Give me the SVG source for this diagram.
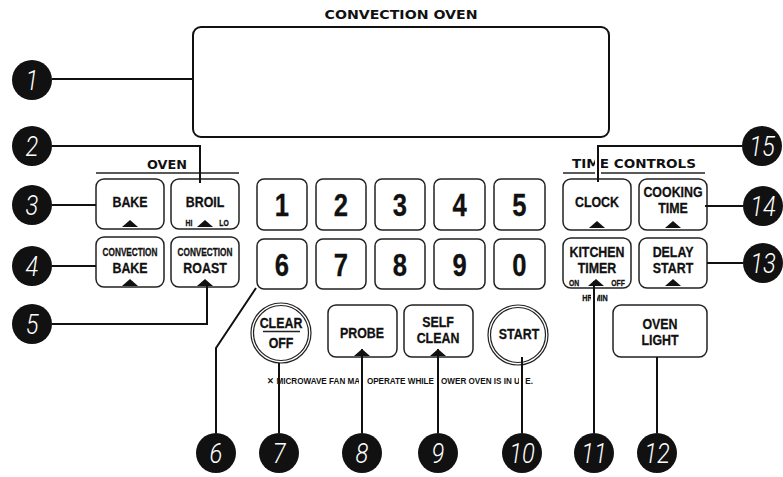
<svg xmlns="http://www.w3.org/2000/svg" width="783" height="477" viewBox="0 0 783 477">
<style>
.bg{fill:#fff}
.btn{fill:#fff;stroke:#222;stroke-width:1.5}
.ring{fill:none;stroke:#222;stroke-width:1.2}
.t{font-family:"Liberation Sans",Arial,sans-serif;font-weight:bold;text-anchor:middle;fill:#111;stroke:#111;stroke-width:0.3;transform-box:fill-box;transform-origin:center;transform:scaleX(0.8)}
.m{font-size:15.5px}
.s{font-size:10.3px}
.xs{font-size:8.5px}
.d{font-size:32px}
.h{font-family:"DejaVu Sans",sans-serif;font-weight:bold;fill:#111;text-anchor:middle}
.note{font-family:"Liberation Sans",Arial,sans-serif;font-weight:bold;fill:#111;font-size:9px}
.ul{stroke:#222;stroke-width:1.5}
.ln{fill:none;stroke:#111;stroke-width:2}
.halo{fill:none;stroke:#fff;stroke-width:6}
.co{fill:#111}
.cn{font-family:Roboto,"Liberation Sans",sans-serif;font-style:italic;font-weight:300;font-size:28px;fill:#fff;text-anchor:middle;transform-box:fill-box;transform-origin:center;transform:scaleX(0.85)}
.tri{fill:#111}
</style>
<defs>
<path id="tri" class="tri" d="M-8,0 L8,0 L0,-7 Z"/>
</defs>
<rect class="bg" x="0" y="0" width="783" height="477"/>

<text class="h" x="401" y="19" font-size="13" textLength="153" lengthAdjust="spacingAndGlyphs">CONVECTION OVEN</text>
<g id="display"><rect x="193" y="27" width="416" height="110" rx="8" fill="#fff" stroke="#111" stroke-width="2"/></g>

<g id="oven-label">
<text class="h" x="167" y="169" font-size="11.5" textLength="40" lengthAdjust="spacingAndGlyphs">OVEN</text>
<line class="ul" x1="96" y1="173" x2="239" y2="173"/>
</g>
<g id="time-label">
<text class="h" x="634" y="168" font-size="11.5" textLength="124" lengthAdjust="spacingAndGlyphs">TIME CONTROLS</text>
<line class="ul" x1="563" y1="173" x2="705" y2="173"/>
</g>

<g id="bake"><rect class="btn" x="96" y="179" width="68" height="50" rx="8"/><text class="t m" x="130" y="207">BAKE</text><use href="#tri" x="130" y="227"/></g>
<g id="broil"><rect class="btn" x="171" y="179" width="68" height="50" rx="8"/><text class="t m" x="205" y="207">BROIL</text><use href="#tri" x="205" y="227"/><text class="t xs" x="189" y="226">HI</text><text class="t xs" x="224" y="226">LO</text></g>
<g id="conv-bake"><rect class="btn" x="96" y="237" width="68" height="50" rx="8"/><text class="t s" x="130" y="256">CONVECTION</text><text class="t m" x="130" y="273">BAKE</text><use href="#tri" x="130" y="286"/></g>
<g id="conv-roast"><rect class="btn" x="171" y="237" width="68" height="50" rx="8"/><text class="t s" x="205" y="256">CONVECTION</text><text class="t m" x="205" y="273">ROAST</text><use href="#tri" x="205" y="286"/></g>

<g id="key1"><rect class="btn" x="257" y="179" width="50" height="51" rx="7"/><text class="t d" x="282" y="216">1</text></g>
<g id="key2"><rect class="btn" x="316" y="179" width="50" height="51" rx="7"/><text class="t d" x="341" y="216">2</text></g>
<g id="key3"><rect class="btn" x="375" y="179" width="50" height="51" rx="7"/><text class="t d" x="400" y="216">3</text></g>
<g id="key4"><rect class="btn" x="434" y="179" width="51" height="51" rx="7"/><text class="t d" x="459.5" y="216">4</text></g>
<g id="key5"><rect class="btn" x="494" y="179" width="51" height="51" rx="7"/><text class="t d" x="519.5" y="216">5</text></g>
<g id="key6"><rect class="btn" x="257" y="239" width="50" height="50" rx="7"/><text class="t d" x="282" y="276">6</text></g>
<g id="key7"><rect class="btn" x="316" y="239" width="50" height="50" rx="7"/><text class="t d" x="341" y="276">7</text></g>
<g id="key8"><rect class="btn" x="375" y="239" width="50" height="50" rx="7"/><text class="t d" x="400" y="276">8</text></g>
<g id="key9"><rect class="btn" x="434" y="239" width="51" height="50" rx="7"/><text class="t d" x="459.5" y="276">9</text></g>
<g id="key0"><rect class="btn" x="494" y="239" width="51" height="50" rx="7"/><text class="t d" x="519.5" y="276">0</text></g>

<g id="clear-off"><circle class="ring" cx="281" cy="333" r="30"/><circle class="ring" cx="281" cy="333" r="27.5"/><text class="t m" x="281" y="328">CLEAR</text><line class="ul" x1="263" y1="331.5" x2="300" y2="331.5"/><text class="t m" x="281" y="348">OFF</text></g>
<g id="probe"><rect class="btn" x="328" y="305" width="69" height="52" rx="8"/><text class="t m" x="362" y="338">PROBE</text><use href="#tri" x="362" y="356"/></g>
<g id="self-clean"><rect class="btn" x="404" y="305" width="69" height="52" rx="8"/><text class="t m" x="438" y="327">SELF</text><text class="t m" x="438" y="343">CLEAN</text><use href="#tri" x="438" y="356"/></g>
<g id="start"><circle class="ring" cx="518" cy="335" r="30"/><circle class="ring" cx="518" cy="335" r="27.5"/><text class="t m" x="519" y="339">START</text></g>

<g id="clock"><rect class="btn" x="563" y="179" width="68" height="51" rx="8"/><text class="t m" x="597" y="207">CLOCK</text><use href="#tri" x="597" y="228"/></g>
<g id="cooking-time"><rect class="btn" x="639" y="179" width="68" height="51" rx="8"/><text class="t m" x="673" y="197">COOKING</text><text class="t m" x="673" y="213">TIME</text><use href="#tri" x="673" y="228"/></g>
<g id="kitchen-timer"><rect class="btn" x="563" y="238" width="68" height="50" rx="8"/><text class="t m" x="597" y="257">KITCHEN</text><text class="t m" x="597" y="273">TIMER</text><text class="t xs" x="574" y="286">ON</text><text class="t xs" x="618" y="286">OFF</text><use href="#tri" x="596" y="286"/><text class="t" x="595" y="301" font-size="9">HR/MIN</text></g>
<g id="delay-start"><rect class="btn" x="639" y="238" width="68" height="50" rx="8"/><text class="t m" x="673" y="257">DELAY</text><text class="t m" x="673" y="273">START</text><use href="#tri" x="673" y="286"/></g>
<g id="oven-light"><rect class="btn" x="613" y="305" width="94" height="52" rx="8"/><text class="t m" x="660" y="329">OVEN</text><text class="t m" x="660" y="345">LIGHT</text></g>

<text class="note" x="267" y="384" textLength="266" lengthAdjust="spacingAndGlyphs">✕ MICROWAVE FAN MAY OPERATE WHILE LOWER OVEN IS IN USE.</text>

<g id="connectors">
<path class="halo" d="M598,150 V176"/>
<path class="halo" d="M594,292 V304"/>
<path class="halo" d="M362,374 V388 M438,374 V388 M522,374 V388"/>
<path class="ln" d="M52,79 H193"/>
<path class="ln" d="M52,146 H200 V183"/>
<path class="ln" d="M52,205 H96"/>
<path class="ln" d="M52,266 H96"/>
<path class="ln" d="M52,324 H207 V283"/>
<path class="ln" d="M256,288 L216,348 V433"/>
<path class="ln" d="M279,363 V433"/>
<path class="ln" d="M362,349 V433"/>
<path class="ln" d="M438,349 V433"/>
<path class="ln" d="M522,357 V433"/>
<path class="ln" d="M594,281 V433"/>
<path class="ln" d="M657,357 V433"/>
<path class="ln" d="M743,263 H707"/>
<path class="ln" d="M743,206 H705"/>
<path class="ln" d="M742,146 H598 V182"/>
</g>

<g id="callout1"><circle class="co" cx="32" cy="80" r="20"/><text class="cn" x="32" y="90">1</text></g>
<g id="callout2"><circle class="co" cx="32" cy="146" r="20"/><text class="cn" x="32" y="156">2</text></g>
<g id="callout3"><circle class="co" cx="32" cy="205" r="20"/><text class="cn" x="32" y="215">3</text></g>
<g id="callout4"><circle class="co" cx="32" cy="266" r="20"/><text class="cn" x="32" y="276">4</text></g>
<g id="callout5"><circle class="co" cx="32" cy="324" r="20"/><text class="cn" x="32" y="334">5</text></g>
<g id="callout6"><circle class="co" cx="216" cy="453" r="20"/><text class="cn" x="216" y="463">6</text></g>
<g id="callout7"><circle class="co" cx="279" cy="453" r="20"/><text class="cn" x="279" y="463">7</text></g>
<g id="callout8"><circle class="co" cx="362" cy="453" r="20"/><text class="cn" x="362" y="463">8</text></g>
<g id="callout9"><circle class="co" cx="438" cy="453" r="20"/><text class="cn" x="438" y="463">9</text></g>
<g id="callout10"><circle class="co" cx="522" cy="453" r="20"/><text class="cn" x="522" y="463">10</text></g>
<g id="callout11"><circle class="co" cx="594" cy="453" r="20"/><text class="cn" x="594" y="463">11</text></g>
<g id="callout12"><circle class="co" cx="657" cy="453" r="20"/><text class="cn" x="657" y="463">12</text></g>
<g id="callout13"><circle class="co" cx="763" cy="263" r="20"/><text class="cn" x="763" y="273">13</text></g>
<g id="callout14"><circle class="co" cx="763" cy="206" r="20"/><text class="cn" x="763" y="216">14</text></g>
<g id="callout15"><circle class="co" cx="762" cy="146" r="20"/><text class="cn" x="762" y="156">15</text></g>
</svg>
